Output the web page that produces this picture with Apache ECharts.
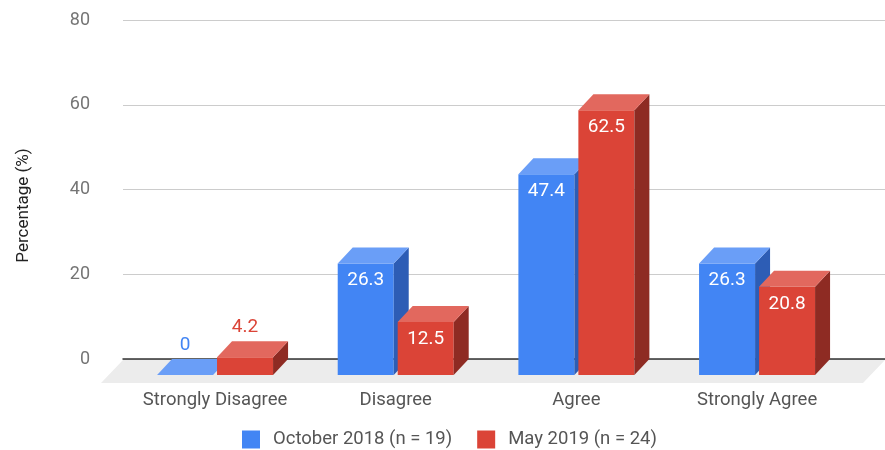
<!DOCTYPE html>
<html><head><meta charset="utf-8">
<script src="https://cdn.jsdelivr.net/npm/echarts@6/dist/echarts.min.js"></script>
<style>html,body{margin:0;padding:0;background:#fff}#c{width:885px;height:450px}</style>
</head><body><div id="c"></div>
<script>
const categories = ['Strongly Disagree', 'Disagree', 'Agree', 'Strongly Agree'];
const october2018 = [0, 26.3, 47.4, 26.3];
const may2019 = [4.2, 12.5, 62.5, 20.8];
const seriesNames = ['October 2018 (n = 19)', 'May 2019 (n = 24)'];
const yMin = 0, yMax = 80, yStep = 20;

const DX = 15, DY = 16;          // bar depth
const FX = 22, FY = 24;          // floor depth
const palette = [
  { front: '#4285F4', top: '#6A9EF7', side: '#2D5DB5' },
  { front: '#DB4437', top: '#E2685E', side: '#8E2B23' }
];
const BACK = { left: 123, right: 0, top: 20, bottom: 91 };
const FRONT = { left: 124.7, right: 37.6, top: BACK.top + DY, bottom: BACK.bottom - DY };

function barRender(sIdx) {
  return function (params, api) {
    const i = api.value(0), v = api.value(1);
    const band = api.size([1, 0])[0];
    const bw = band * 0.31, gap = band * 0.022;
    const c = api.coord([i, v]);
    const base = api.coord([i, 0])[1];
    const top = c[1];
    const x0 = sIdx === 0 ? c[0] - gap / 2 - bw : c[0] + gap / 2;
    const col = palette[sIdx];
    const h = base - top;
    const children = [];
    if (h > 0.5) {
      children.push({ type: 'rect', shape: { x: x0, y: top, width: bw, height: h }, style: { fill: col.front } });
      children.push({ type: 'polygon', shape: { points: [[x0 + bw, top], [x0 + bw + DX, top - DY], [x0 + bw + DX, base - DY], [x0 + bw, base]] }, style: { fill: col.side } });
    }
    children.push({ type: 'polygon', shape: { points: [[x0, top], [x0 + bw, top], [x0 + bw + DX, top - DY], [x0 + DX, top - DY]] }, style: { fill: col.top } });
    const inside = h > 34;
    children.push({
      type: 'text',
      style: {
        text: String(v),
        x: x0 + bw / 2,
        y: inside ? top + 17 : top - DY - 14,
        align: 'center', verticalAlign: 'middle',
        fill: inside ? '#fff' : col.front,
        font: '19px Roboto'
      }
    });
    return { type: 'group', children: children };
  };
}

const chart = echarts.init(document.getElementById('c'), null, { renderer: 'canvas' });
chart.setOption({
  animation: false,
  textStyle: { fontFamily: 'Roboto' },
  grid: [
    { left: BACK.left, right: BACK.right, top: BACK.top, bottom: BACK.bottom },
    { left: FRONT.left, right: FRONT.right, top: FRONT.top, bottom: FRONT.bottom }
  ],
  xAxis: [
    { type: 'value', gridIndex: 0, min: 0, max: 1, z: 3,
      axisLine: { show: true, onZero: false, lineStyle: { color: '#333', width: 1.5 } },
      axisTick: { show: false }, axisLabel: { show: false }, splitLine: { show: false } },
    { type: 'category', gridIndex: 1, data: categories,
      axisLine: { show: false }, axisTick: { show: false }, splitLine: { show: false },
      axisLabel: { color: '#555', fontSize: 18.5, margin: 16, interval: 0, hideOverlap: false } }
  ],
  yAxis: [
    { type: 'value', gridIndex: 0, min: yMin, max: yMax, interval: yStep,
      axisLine: { show: false }, axisTick: { show: false },
      axisLabel: { color: '#757575', fontSize: 18, margin: 33 },
      splitLine: { lineStyle: { color: '#cccccc', width: 1 } } },
    { type: 'value', gridIndex: 1, min: yMin, max: yMax, interval: yStep,
      axisLine: { show: false }, axisTick: { show: false }, axisLabel: { show: false },
      splitLine: { show: false },
      name: 'Percentage (%)', nameLocation: 'middle', nameRotate: 90, nameGap: 92,
      nameTextStyle: { color: '#222', fontSize: 17 } }
  ],
  legend: {
    data: seriesNames, top: 430, left: 242, padding: 0, itemWidth: 18, itemHeight: 18, itemGap: 25,
    icon: 'rect', textStyle: { color: '#555', fontSize: 18.5, padding: [0, 0, 0, 8] }
  },
  series: [
    { type: 'custom', name: 'floor', xAxisIndex: 0, yAxisIndex: 0, z: 1, silent: true,
      data: [[0, 0]],
      renderItem: function (params, api) {
        const a = api.coord([0, 0]), b = api.coord([1, 0]);
        return { type: 'polygon', shape: { points: [[a[0], a[1] + 1], [b[0], b[1] + 1], [b[0] - FX, b[1] + FY], [a[0] - FX, a[1] + FY]] }, style: { fill: '#ececec' } };
      } },
    { type: 'custom', name: seriesNames[0], xAxisIndex: 1, yAxisIndex: 1, z: 5,
      itemStyle: { color: palette[0].front },
      data: october2018.map((v, i) => [i, v]), renderItem: barRender(0) },
    { type: 'custom', name: seriesNames[1], xAxisIndex: 1, yAxisIndex: 1, z: 5,
      itemStyle: { color: palette[1].front },
      data: may2019.map((v, i) => [i, v]), renderItem: barRender(1) }
  ]
});
</script></body></html>
